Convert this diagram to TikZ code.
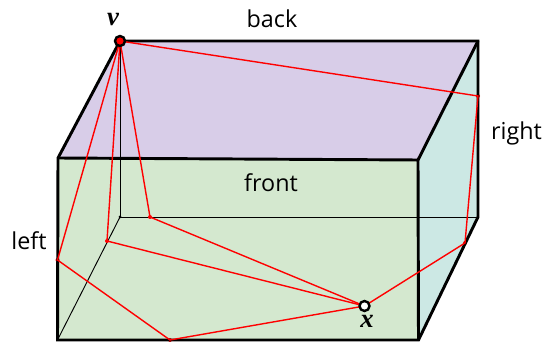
\documentclass[tikz,border=0pt]{standalone}
\usepackage{fontspec}
\setmainfont{Open Sans}
\newfontfamily\ptfont{Liberation Serif}
\definecolor{backcol}{HTML}{D8CDE8}
\definecolor{frontcol}{HTML}{D4E8CF}
\definecolor{rightcol}{HTML}{CCE8E4}
\usepackage{tikz}

\begin{document}
\begin{tikzpicture}[x=0.75pt,y=-0.75pt,
        boxedge/.style={line width=2.2pt, black},
        hidden/.style={line width=0.7pt, black},
        redpath/.style={line width=1.05pt, red},
        lab/.style={font=\fontsize{17.5}{20}\selectfont, text=black, inner sep=0pt},
        ptlab/.style={font=\ptfont\bfseries\itshape\fontsize{20}{22}\selectfont, inner sep=0pt},
        kink/.style={circle, fill=red, inner sep=0pt, minimum size=3pt},
        endpt/.style={circle, draw=black, line width=1.8pt, inner sep=0pt, minimum size=7.5pt}]
        \useasboundingbox (0,0) rectangle (543,345);
        % corners of the box
        \coordinate (backTL) at (120,41);
        \coordinate (backTR) at (478,41);
        \coordinate (backBL) at (120,217);
        \coordinate (backBR) at (478,217);
        \coordinate (frontTL) at (58,158);
        \coordinate (frontTR) at (418,160);
        \coordinate (frontBL) at (57.5,340);
        \coordinate (frontBR) at (418.5,340);
        % faces
        \fill[frontcol] (frontTL) -- (frontTR) -- (frontBR) -- (frontBL) -- cycle;
        \fill[rightcol] (backTR) -- (backBR) -- (frontBR) -- (frontTR) -- cycle;
        \fill[backcol] (backTL) -- (backTR) -- (frontTR) -- (frontTL) -- cycle;
        % hidden edges
        \draw[hidden] (backTL) -- (backBL);
        \draw[hidden] (backBL) -- (backBR);
        \draw[hidden] (backBL) -- (frontBL);
        \fill (backBL) circle (1.5);
        % bends of the paths
        \node[kink] (a) at (478,96) {};
        \node[kink] (b) at (465,243) {};
        \node[kink] (c) at (170,340) {};
        \node[kink] (d) at (57.5,260) {};
        \node[kink] (e) at (107,241) {};
        \node[kink] (f) at (150,217) {};
        \coordinate (v) at (120,41);
        \coordinate (x) at (364.5,306);
        \draw[boxedge] (frontTL) -- (backTL) -- (backTR) -- (backBR) -- (frontBR) -- (frontBL) -- cycle;
        \draw[boxedge] (frontTL) -- (frontTR) -- (frontBR);
        \draw[boxedge] (frontTR) -- (backTR);
        \draw[redpath] (v) -- (a.center) -- (b.center) -- (x);
        \draw[redpath] (v) -- (d.center) -- (c.center) -- (x);
        \draw[redpath] (v) -- (e.center) -- (x);
        \draw[redpath] (v) -- (f.center) -- (x);
        \node[endpt, fill=red] (vdot) at (v) {};
        \node[endpt, fill=white] (xdot) at (x) {};
        \node[ptlab] (vlab) at (113,20) {v};
        \node[ptlab] (xlab) at (367,321.5) {x};
        \node[lab] (back) at (272,19) {back};
        \node[lab] (front) at (271,183) {front};
        \node[lab] (left) at (29,241) {left};
        \node[lab] (right) at (516.5,133) {right};
    \end{tikzpicture}
\end{document}
